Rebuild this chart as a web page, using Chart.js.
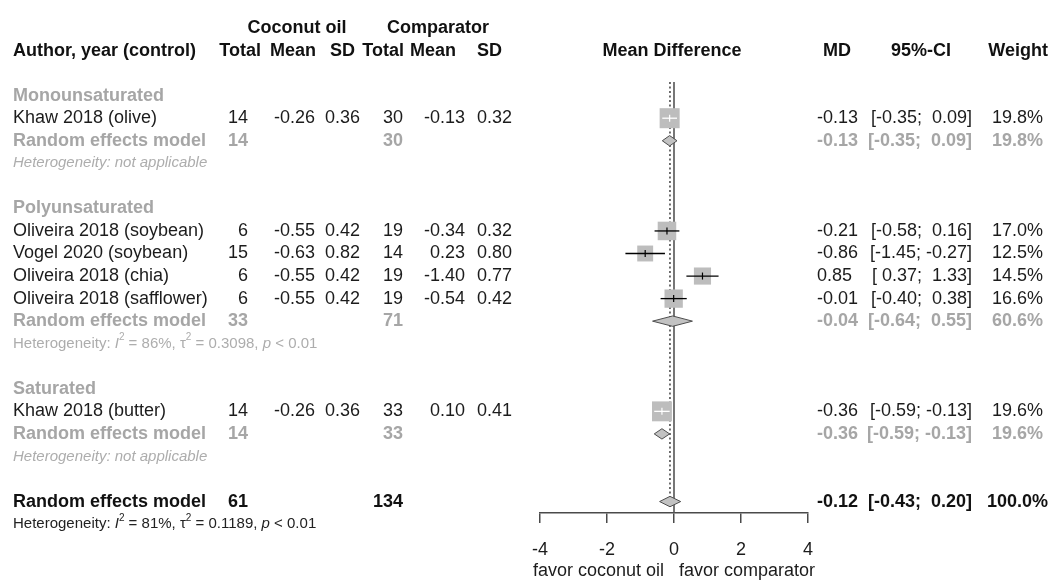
<!DOCTYPE html>
<html>
<head>
<meta charset="utf-8">
<script src="https://cdn.jsdelivr.net/npm/chart.js@4.4.0/dist/chart.umd.min.js"></script>
<style>
  body { margin: 0; background: #fff; }
  #wrap { width: 1054px; height: 580px; }
</style>
</head>
<body>
<div id="wrap"><canvas id="forest"></canvas></div>
<script>
// one entry per study
const studies = ['Khaw 2018 (olive)', 'Oliveira 2018 (soybean)', 'Vogel 2020 (soybean)',
  'Oliveira 2018 (chia)', 'Oliveira 2018 (safflower)', 'Khaw 2018 (butter)'];
const studyGroup = [0, 1, 1, 1, 1, 2];
const coconutTotal = [14, 6, 15, 6, 6, 14];
const coconutMean = [-0.26, -0.55, -0.63, -0.55, -0.55, -0.26];
const coconutSD = [0.36, 0.42, 0.82, 0.42, 0.42, 0.36];
const compTotal = [30, 19, 14, 19, 19, 33];
const compMean = [-0.13, -0.34, 0.23, -1.40, -0.54, 0.10];
const compSD = [0.32, 0.32, 0.80, 0.77, 0.42, 0.41];
const md = [-0.13, -0.21, -0.86, 0.85, -0.01, -0.36];
const ciLow = [-0.35, -0.58, -1.45, 0.37, -0.40, -0.59];
const ciHigh = [0.09, 0.16, -0.27, 1.33, 0.38, -0.13];
const weight = [19.8, 17.0, 12.5, 14.5, 16.6, 19.6];

// subgroups
const groups = ['Monounsaturated', 'Polyunsaturated', 'Saturated'];
const groupCoconutTotal = [14, 33, 14];
const groupCompTotal = [30, 71, 33];
const groupMD = [-0.13, -0.04, -0.36];
const groupLow = [-0.35, -0.64, -0.59];
const groupHigh = [0.09, 0.55, -0.13];
const groupWeight = [19.8, 60.6, 19.6];
const groupI2 = [null, 86, null];
const groupTau2 = [null, '0.3098', null];
const groupP = [null, '< 0.01', null];

// overall
const overallCoconutTotal = 61;
const overallCompTotal = 134;
const overallMD = -0.12;
const overallLow = -0.43;
const overallHigh = 0.20;
const overallWeight = 100.0;
const overallI2 = 81;
const overallTau2 = '0.1189';
const overallP = '< 0.01';

const xTicks = [-4, -2, 0, 2, 4];

const FONT = '"Liberation Sans", Arial, sans-serif';
const ROW_H = 22.55, TOP_Y = 28, AXIS_Y = 513;
const INK = '#1c1c1c', GRAY = '#a6a6a6', SQUARE = '#bdbdbd';

// rows: 0,1 header, then blank / title / studies / model / heterogeneity per group
let r = 2;
const studyRow = [], titleRow = [], modelRow = [], hetRow = [];
groups.forEach((g, gi) => {
  r++;
  titleRow.push(r++);
  studies.forEach((s, si) => { if (studyGroup[si] === gi) studyRow[si] = r++; });
  modelRow.push(r++);
  hetRow.push(r++);
});
r++;
const overallRow = r++;
const overallHetRow = r;

const side = i => 4.5 * Math.sqrt(weight[i]);
// CI drawn white when it fits inside the square
const ciColor = (chart, i) => {
  const xs = chart.scales.x;
  const span = xs.getPixelForValue(ciHigh[i]) - xs.getPixelForValue(ciLow[i]);
  return span < side(i) ? '#ffffff' : '#000000';
};

const DH = 0.23;
const diamond = (lo, m, hi, row) => [
  {x: lo, y: row}, {x: m, y: row - DH}, {x: hi, y: row}, {x: m, y: row + DH}, {x: lo, y: row}
];

const datasets = [];
datasets.push({
  type: 'line', data: [{x: 0, y: 2.39}, {x: 0, y: (AXIS_Y - TOP_Y) / ROW_H}],
  borderColor: '#555', borderWidth: 1.6, pointRadius: 0, order: 10
});
datasets.push({
  type: 'line', data: [{x: overallMD, y: 2.39}, {x: overallMD, y: overallRow + 0.3}],
  borderColor: '#222', borderWidth: 1.3, borderDash: [2, 2.5], pointRadius: 0, order: 9
});
datasets.push({
  type: 'scatter', data: md.map((m, i) => ({x: m, y: studyRow[i]})),
  pointStyle: 'rect', pointRadius: weight.map((w, i) => side(i) / Math.SQRT2),
  pointBackgroundColor: SQUARE, pointBorderWidth: 0, order: 5
});
studies.forEach((s, i) => {
  datasets.push({
    type: 'line', data: [{x: ciLow[i], y: studyRow[i]}, {x: ciHigh[i], y: studyRow[i]}],
    borderColor: c => ciColor(c.chart, i), borderWidth: 1.3, pointRadius: 0, order: 2
  });
});
datasets.push({
  type: 'scatter', data: md.map((m, i) => ({x: m, y: studyRow[i]})),
  pointStyle: 'line', pointRotation: 90, pointRadius: 3.5, pointBorderWidth: 1.2,
  pointBorderColor: c => ciColor(c.chart, c.dataIndex), order: 1
});
groups.forEach((g, gi) => {
  datasets.push({
    type: 'line', data: diamond(groupLow[gi], groupMD[gi], groupHigh[gi], modelRow[gi]),
    fill: 'shape', backgroundColor: '#c2c2c2', borderColor: '#4d4d4d', borderWidth: 1,
    pointRadius: 0, tension: 0, order: 3
  });
});
datasets.push({
  type: 'line', data: diamond(overallLow, overallMD, overallHigh, overallRow),
  fill: 'shape', backgroundColor: '#c2c2c2', borderColor: '#4d4d4d', borderWidth: 1,
  pointRadius: 0, tension: 0, order: 3
});

const f = (size, weight = 'normal', style = 'normal') => `${style} ${weight} ${size}px ${FONT}`;
const fmt = v => v.toFixed(2);
const pad = v => (v < 0 ? '' : ' ') + v.toFixed(2);
const ciText = (lo, hi) => '[' + pad(lo) + '; ' + pad(hi) + ']';

const forestText = {
  id: 'forestText',
  afterDraw(chart) {
    const {ctx, scales: {x, y}} = chart;
    const put = (txt, px, row, align, font, color) => {
      ctx.font = font;
      ctx.fillStyle = color;
      ctx.textAlign = align;
      ctx.textBaseline = 'middle';
      ctx.fillText(txt, px, y.getPixelForValue(row));
    };
    const het = (px, row, color, parts) => {
      const py = y.getPixelForValue(row);
      ctx.textAlign = 'left';
      ctx.textBaseline = 'middle';
      ctx.fillStyle = color;
      parts.forEach(p => {
        ctx.font = p.sup ? f(10) : f(15, 'normal', p.it ? 'italic' : 'normal');
        ctx.fillText(p.t, px, p.sup ? py - 6 : py);
        px += ctx.measureText(p.t).width;
      });
    };
    const hetStats = (i2, tau2, p) => [
      {t: 'Heterogeneity: '}, {t: 'I', it: true}, {t: '2', sup: true}, {t: ' = ' + i2 + '%, '},
      {t: 'τ'}, {t: '2', sup: true}, {t: ' = ' + tau2 + ', '}, {t: 'p', it: true}, {t: ' ' + p}
    ];
    ctx.save();
    const H = f(18, 'bold');
    // header
    put('Coconut oil', 297, 0, 'center', H, '#111');
    put('Comparator', 438, 0, 'center', H, '#111');
    put('Author, year (control)', 13, 1, 'left', H, '#111');
    put('Total', 261, 1, 'right', H, '#111');
    put('Mean', 316, 1, 'right', H, '#111');
    put('SD', 355, 1, 'right', H, '#111');
    put('Total', 404, 1, 'right', H, '#111');
    put('Mean', 456, 1, 'right', H, '#111');
    put('SD', 502, 1, 'right', H, '#111');
    put('Mean Difference', x.getPixelForValue(0) - 2, 1, 'center', H, '#111');
    put('MD', 837, 1, 'center', H, '#111');
    put('95%-CI', 921, 1, 'center', H, '#111');
    put('Weight', 1048, 1, 'right', H, '#111');

    const N = f(18);
    const B = f(18, 'bold');
    studies.forEach((s, i) => {
      const row = studyRow[i];
      put(s, 13, row, 'left', N, INK);
      put(String(coconutTotal[i]), 248, row, 'right', N, INK);
      put(fmt(coconutMean[i]), 315, row, 'right', N, INK);
      put(fmt(coconutSD[i]), 360, row, 'right', N, INK);
      put(String(compTotal[i]), 403, row, 'right', N, INK);
      put(fmt(compMean[i]), 465, row, 'right', N, INK);
      put(fmt(compSD[i]), 512, row, 'right', N, INK);
      put(fmt(md[i]), 817, row, 'left', N, INK);
      put(ciText(ciLow[i], ciHigh[i]), 972, row, 'right', N, INK);
      put(weight[i].toFixed(1) + '%', 1043, row, 'right', N, INK);
    });
    groups.forEach((g, gi) => {
      put(g, 13, titleRow[gi], 'left', B, GRAY);
      const row = modelRow[gi];
      put('Random effects model', 13, row, 'left', B, GRAY);
      put(String(groupCoconutTotal[gi]), 248, row, 'right', B, GRAY);
      put(String(groupCompTotal[gi]), 403, row, 'right', B, GRAY);
      put(fmt(groupMD[gi]), 817, row, 'left', B, GRAY);
      put(ciText(groupLow[gi], groupHigh[gi]), 972, row, 'right', B, GRAY);
      put(groupWeight[gi].toFixed(1) + '%', 1043, row, 'right', B, GRAY);
      if (groupI2[gi] === null) {
        het(13, hetRow[gi], '#adadad', [{t: 'Heterogeneity: not applicable', it: true}]);
      } else {
        het(13, hetRow[gi], '#adadad', hetStats(groupI2[gi], groupTau2[gi], groupP[gi]));
      }
    });
    put('Random effects model', 13, overallRow, 'left', B, '#111');
    put(String(overallCoconutTotal), 248, overallRow, 'right', B, '#111');
    put(String(overallCompTotal), 403, overallRow, 'right', B, '#111');
    put(fmt(overallMD), 817, overallRow, 'left', B, '#111');
    put(ciText(overallLow, overallHigh), 972, overallRow, 'right', B, '#111');
    put(overallWeight.toFixed(1) + '%', 1048, overallRow, 'right', B, '#111');
    het(13, overallHetRow, '#222', hetStats(overallI2, overallTau2, overallP));

    // direction labels under the axis
    ctx.font = f(18);
    ctx.fillStyle = INK;
    ctx.textBaseline = 'middle';
    ctx.textAlign = 'right';
    ctx.fillText('favor coconut oil', x.getPixelForValue(0) - 10, 571);
    ctx.textAlign = 'left';
    ctx.fillText('favor comparator', x.getPixelForValue(0) + 5, 571);
    ctx.restore();
  }
};

new Chart(document.getElementById('forest'), {
  type: 'scatter',
  data: {datasets},
  plugins: [forestText],
  options: {
    responsive: true,
    maintainAspectRatio: false,
    animation: false,
    layout: {autoPadding: false, padding: {left: 540, right: 246, top: 0, bottom: 0}},
    plugins: {legend: {display: false}, tooltip: {enabled: false}},
    scales: {
      x: {
        type: 'linear', min: -4, max: 4,
        afterBuildTicks: s => { s.ticks = xTicks.map(v => ({value: v})); },
        afterFit: s => { s.height = 580 - AXIS_Y; },
        ticks: {color: INK, font: {family: FONT, size: 18}, padding: 16, maxRotation: 0},
        grid: {drawOnChartArea: false, drawTicks: true, tickLength: 10, color: '#4a4a4a', lineWidth: 1.5},
        border: {display: true, color: '#4a4a4a', width: 1.5}
      },
      y: {
        display: false, reverse: true,
        min: -TOP_Y / ROW_H, max: (AXIS_Y - TOP_Y) / ROW_H
      }
    }
  }
});
</script>
</body>
</html>
